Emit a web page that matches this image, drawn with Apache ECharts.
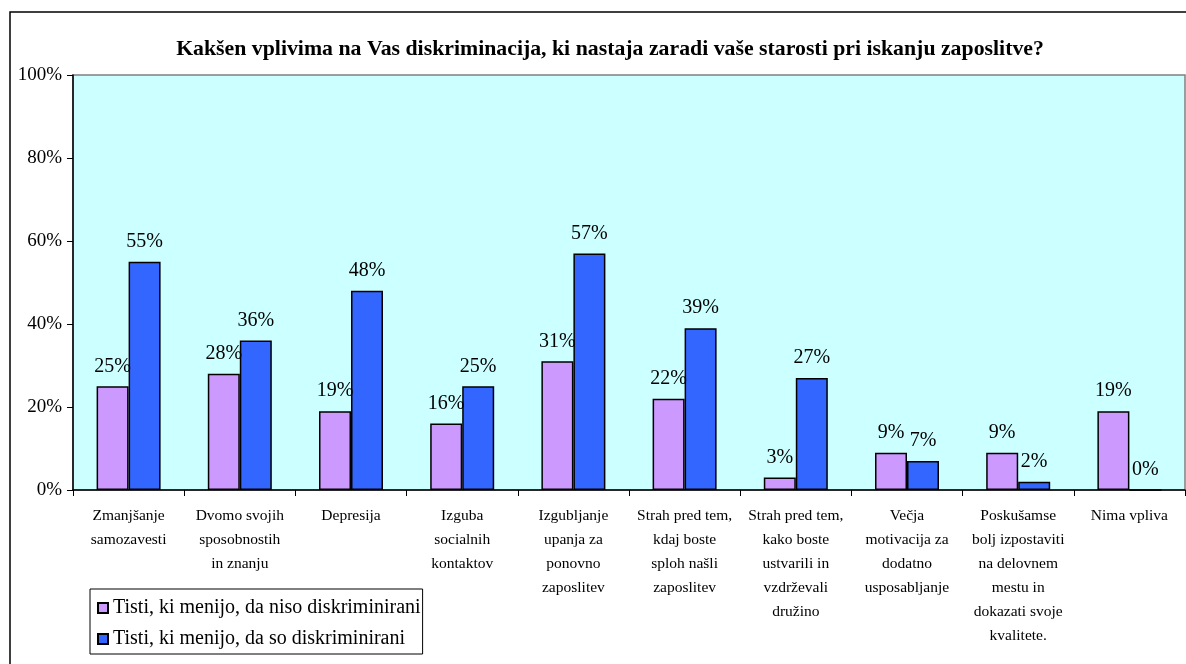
<!DOCTYPE html>
<html>
<head>
<meta charset="utf-8">
<script src="https://cdn.jsdelivr.net/npm/echarts@6/dist/echarts.min.js"></script>
<style>html,body{margin:0;padding:0;background:#fff;}#c{width:1186px;height:664px;}</style>
</head>
<body>
<div id="c"></div>
<script>
const titleText = 'Kakšen vplivima na Vas diskriminacija, ki nastaja zaradi vaše starosti pri iskanju zaposlitve?';
const categories = [
  'Zmanjšanje\nsamozavesti',
  'Dvomo svojih\nsposobnostih\nin znanju',
  'Depresija',
  'Izguba\nsocialnih\nkontaktov',
  'Izgubljanje\nupanja za\nponovno\nzaposlitev',
  'Strah pred tem,\nkdaj boste\nsploh našli\nzaposlitev',
  'Strah pred tem,\nkako boste\nustvarili in\nvzdrževali\ndružino',
  'Večja\nmotivacija za\ndodatno\nusposabljanje',
  'Poskušamse\nbolj izpostaviti\nna delovnem\nmestu in\ndokazati svoje\nkvalitete.',
  'Nima vpliva'
];
const seriesNames = ['Tisti, ki menijo, da niso diskriminirani', 'Tisti, ki menijo, da so diskriminirani'];
const notDiscriminated = [25, 28, 19, 16, 31, 22, 3, 9, 9, 19];
const discriminated = [55, 36, 48, 25, 57, 39, 27, 7, 2, 0];
const yTicks = [0, 20, 40, 60, 80, 100];

const FONT = '"Liberation Serif", "Times New Roman", serif';
const chart = echarts.init(document.getElementById('c'), null, {renderer: 'canvas'});

function barSeries(name, data, color) {
  return {
    name: name,
    type: 'bar',
    data: data,
    barWidth: 32,
    barGap: '0%',
    itemStyle: {color: color, borderColor: '#000', borderWidth: 1.5},
    label: {
      show: true, position: 'top', distance: 10,
      formatter: '{c}%',
      fontFamily: FONT, fontSize: 20, color: '#000'
    },
    emphasis: {disabled: true},
    animation: false
  };
}

chart.setOption({
  animation: false,
  backgroundColor: '#fff',
  title: {
    text: titleText,
    left: 605, top: 33, textAlign: 'center',
    textStyle: {fontFamily: FONT, fontWeight: 'bold', fontSize: 21.8, color: '#000'}
  },
  graphic: [{
    type: 'rect', silent: true, z: 100,
    shape: {x: 10, y: 12, width: 1200, height: 700},
    style: {fill: 'none', stroke: '#000', lineWidth: 1.5}
  }],
  grid: {
    left: 73, right: 1, top: 75, bottom: 174,
    show: true, backgroundColor: '#CCFFFF', borderColor: '#808080', borderWidth: 1.5,
    containLabel: false
  },
  legend: {
    left: 90, top: 589,
    orient: 'vertical',
    itemWidth: 10, itemHeight: 10, itemGap: 11,
    padding: [9, 2, 5, 7],
    borderColor: '#000', borderWidth: 1,
    backgroundColor: '#fff',
    icon: 'rect',
    textStyle: {fontFamily: FONT, fontSize: 20, color: '#000'},
    data: seriesNames
  },
  xAxis: {
    type: 'category',
    data: categories,
    axisLine: {lineStyle: {color: '#000', width: 1.5}},
    axisTick: {show: true, length: 6, lineStyle: {color: '#000'}, alignWithLabel: false},
    axisLabel: {
      interval: 0, margin: 14,
      fontFamily: FONT, fontSize: 15.5, lineHeight: 24, color: '#000'
    },
    splitLine: {show: false}
  },
  yAxis: {
    type: 'value',
    min: yTicks[0], max: yTicks[yTicks.length - 1], interval: 20,
    axisLine: {show: true, lineStyle: {color: '#000', width: 1.5}},
    axisTick: {show: true, length: 6, lineStyle: {color: '#000'}},
    axisLabel: {formatter: '{value}%', margin: 11, fontFamily: FONT, fontSize: 19, color: '#000'},
    splitLine: {show: false}
  },
  series: [
    barSeries(seriesNames[0], notDiscriminated, '#CC99FF'),
    barSeries(seriesNames[1], discriminated, '#3366FF')
  ]
});
</script>
</body>
</html>
